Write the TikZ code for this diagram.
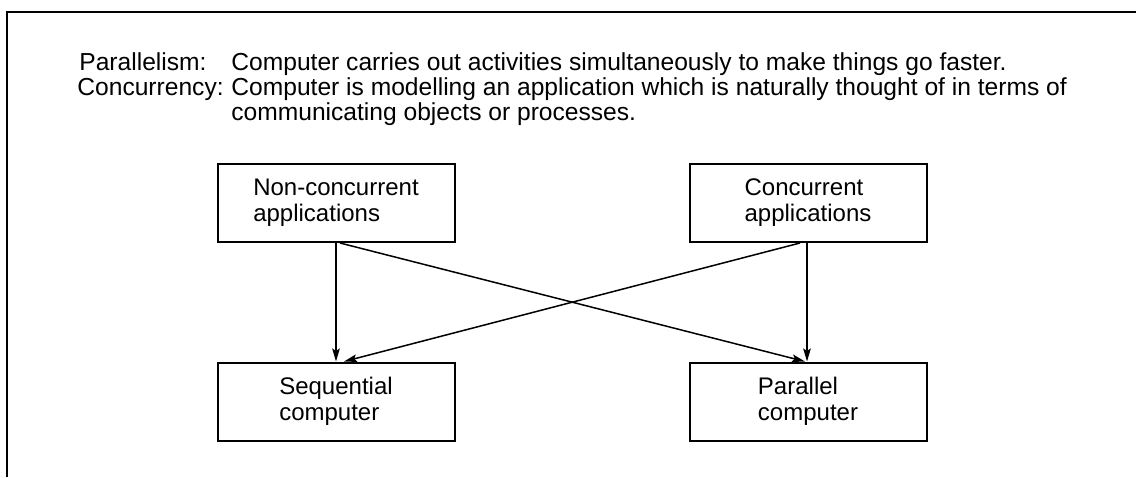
\documentclass[tikz,border=0pt]{standalone}
\usepackage{fontspec}
\setmainfont{Liberation Sans}
\usetikzlibrary{arrows.meta}
\tikzset{
  txt/.style={inner sep=0pt, anchor=base west, font=\fontsize{12.3}{12.5}\selectfont},
  box/.style={draw, line width=1pt, inner sep=0pt, minimum width=118.5pt, minimum height=39pt,
              align=left, font=\fontsize{12}{13}\selectfont},
  arr/.style={line width=0.75pt, -{Stealth[length=6.5pt, width=3.8pt, inset=1.2pt]}},
  frame/.style={line width=1pt}
}
\begin{document}
\begin{tikzpicture}[x=0.5pt, y=-0.5pt]
\useasboundingbox (0,0) rectangle (1136,477);

% outer frame (open at right and bottom)
\coordinate (fb) at (7,477);
\coordinate (fc) at (7,12);
\coordinate (fr) at (1136,12);
\draw[frame] (fb) -- (fc) -- (fr);

% definitions
\node[txt] (plab) at (79,70) {Parallelism:};
\node[txt] (pdef) at (231,70) {Computer carries out activities simultaneously to make things go faster.};
\node[txt] (clab) at (77,95) {Concurrency:};
\node[txt] (cdef1) at (231,95) {Computer is modelling an application which is naturally thought of in terms of};
\node[txt] (cdef2) at (231,120) {communicating objects or processes.};

% boxes
\node[box] (nc)   at (336,203)   {Non-concurrent\\applications};
\node[box] (conc) at (808,203)   {Concurrent\\applications};
\node[box] (seq)  at (336,401.5) {Sequential\\computer};
\node[box] (par)  at (808,401.5) {Parallel\\computer};

% connectors
\draw[arr] (nc.south) -- (seq.north);
\draw[arr] ([xshift=2pt]nc.south) -- ([xshift=-1.5pt]par.north);
\draw[arr] ([xshift=-4pt]conc.south) -- ([xshift=4pt]seq.north);
\draw[arr] ([xshift=-0.5pt]conc.south) -- ([xshift=-0.5pt]par.north);
\end{tikzpicture}
\end{document}
